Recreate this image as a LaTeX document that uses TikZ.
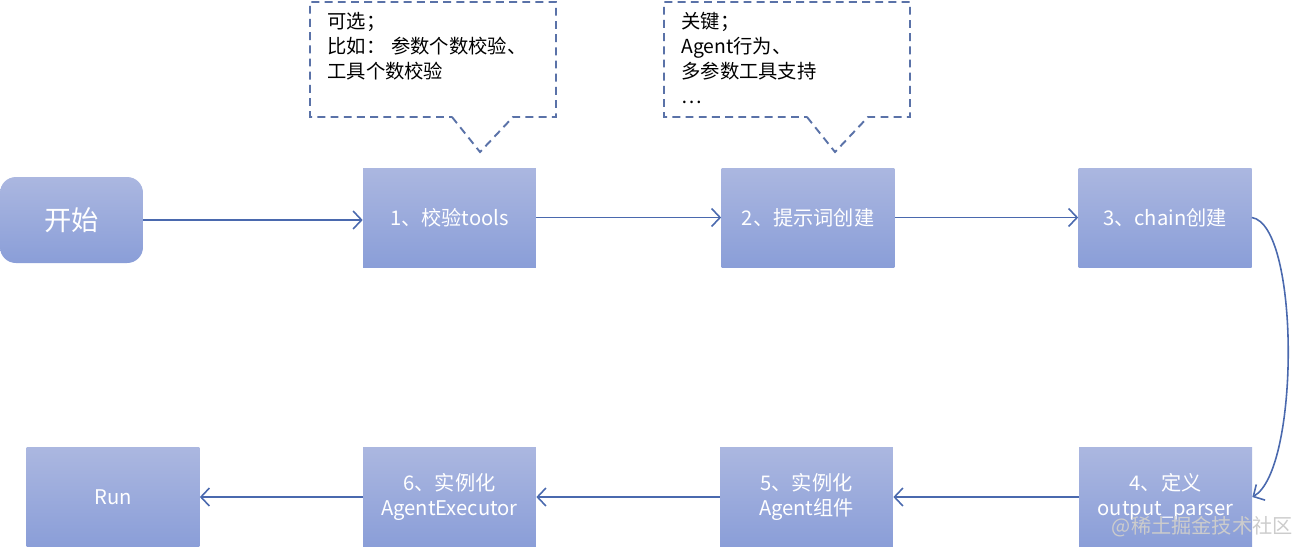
\documentclass[tikz,border=0pt]{standalone}
\usepackage{fontspec}
\setmainfont{Noto Sans CJK SC}
\usetikzlibrary{arrows.meta, positioning, calc}
\definecolor{ctop}{HTML}{ABB7E0}
\definecolor{cbot}{HTML}{8A9ED8}
\definecolor{cline}{HTML}{4A69AE}
\definecolor{cdash}{HTML}{5A72A8}
\tikzset{
  stepbox/.style={top color=ctop, bottom color=cbot, draw=none, text=white, align=center, minimum width=3.46cm, minimum height=1.98cm, inner sep=2pt, font=\fontsize{11.5}{14}\selectfont},
  flow/.style={-{Straight Barb[length=1.7mm, width=3.6mm]}, draw=cline, line width=0.9pt},
  bubble/.style={draw=cdash, dashed, dash pattern=on 4.5pt off 3pt, line width=1.1pt},
  memo/.style={align=left, anchor=north west, inner sep=0pt, font=\fontsize{11}{14.2}\selectfont},
}
\begin{document}
\begin{tikzpicture}[x=0.02cm, y=-0.02cm]
  \useasboundingbox (0,0) rectangle (1294,549);
  % top row
  \node[stepbox, minimum width=2.86cm, minimum height=1.72cm, rounded corners=9pt, font=\fontsize{15.5}{18}\selectfont] (start) at (71.5,220) {开始};
  \node[stepbox] (s1) at (449.5,217.5) {1、校验tools};
  \node[stepbox] (s2) at (808,217.5) {2、提示词创建};
  \node[stepbox] (s3) at (1165,217.5) {3、chain创建};
  % bottom row
  \node[stepbox] (s4) at (1165.5,497) {4、定义\\output\_parser};
  \node[stepbox] (s5) at (806.5,497) {5、实例化\\Agent组件};
  \node[stepbox] (s6) at (449.5,497) {6、实例化\\AgentExecutor};
  \node[stepbox] (run) at (113,497) {Run};
  % notes above steps 1 and 2
  \node[memo] (m1) at (327,12) {可选；\\比如：\hspace{0.3em}参数个数校验、\\工具个数校验};
  \draw[bubble] (452,117) -- (480,152) -- (513,117) -- (556,117) -- (556,2) -- (310,2) -- (310,117) -- cycle;
  \node[memo] (m2) at (681,12) {关键；\\Agent行为、\\多参数工具支持\\…};
  \draw[bubble] (807,117) -- (835,152) -- (868,117) -- (910,117) -- (910,2) -- (664,2) -- (664,117) -- cycle;
  % connectors
  \draw[flow] (start.east) -- (start.east -| s1.west);
  \foreach \a/\b in {s1/s2, s2/s3, s4/s5, s5/s6, s6/run} \draw[flow] (\a) -- (\b);
  \draw[flow] (s3.east) .. controls (1300,225) and (1300,470) .. (s4.east);
  % watermark
  \node[anchor=east, inner sep=0pt, text=white!80!black, font=\fontsize{11.5}{14}\selectfont] (wm) at (1293,527) {@稀土掘金技术社区};
\end{tikzpicture}
\end{document}
